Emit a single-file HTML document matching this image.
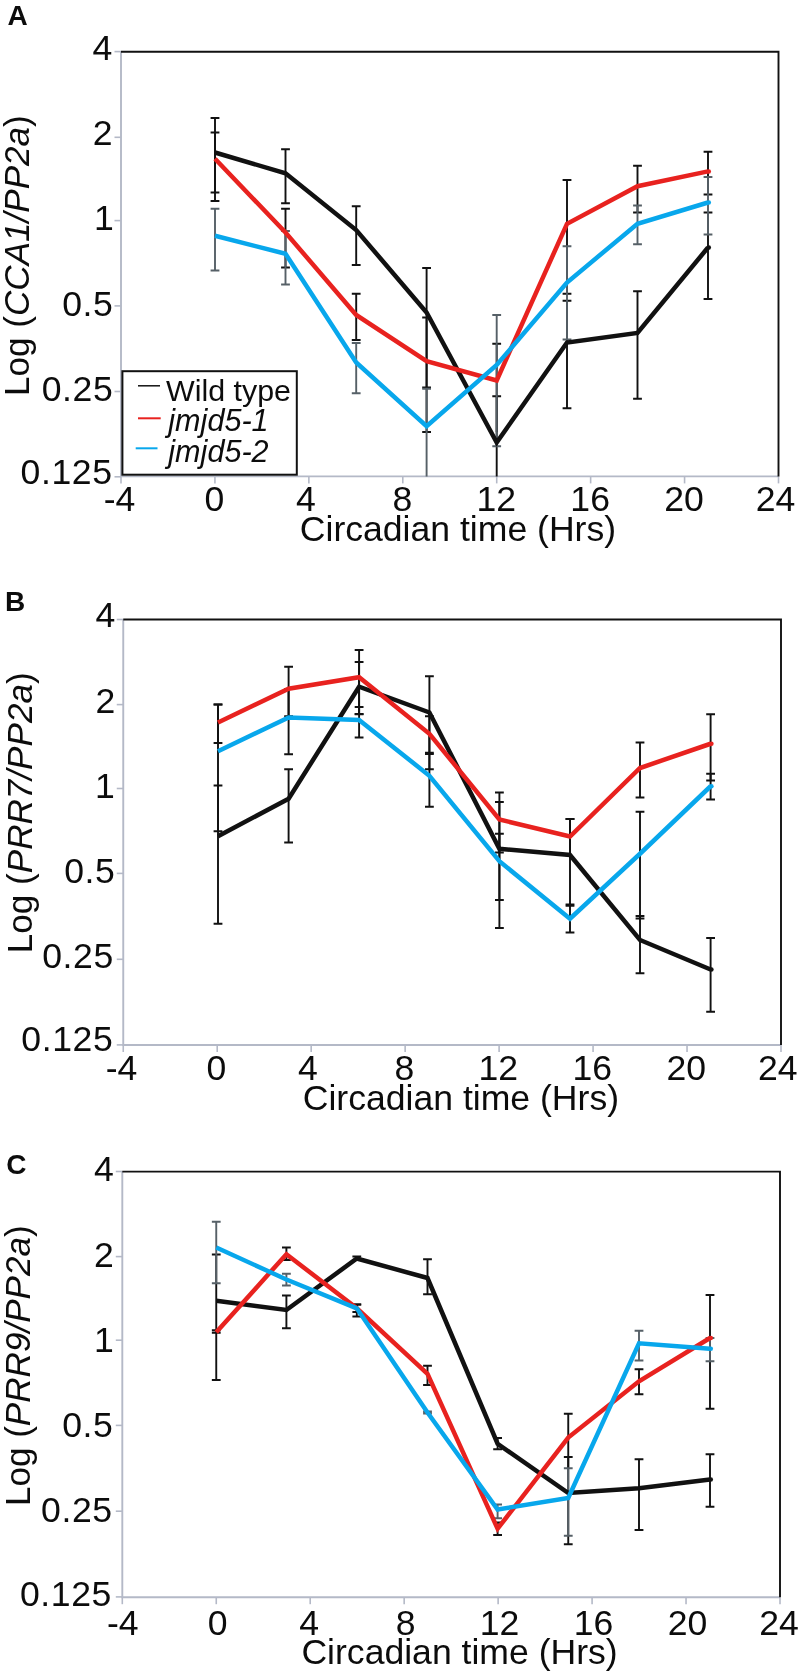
<!DOCTYPE html>
<html lang="en">
<head>
<meta charset="utf-8">
<title>Figure: circadian expression in jmjd5 mutants</title>
<style>
html,body{margin:0;padding:0;background:#fff;}
body{width:800px;height:1675px;overflow:hidden;}
svg{display:block;}
text{font-family:"Liberation Sans",Arial,Helvetica,sans-serif;fill:#0c0c0c;}
</style>
</head>
<body>
<svg style="will-change:transform" width="800" height="1675" viewBox="0 0 800 1675">
<rect width="800" height="1675" fill="#ffffff"/>
<g>
<text x="7.4" y="24.8" font-size="28" font-weight="bold">A</text>
<line x1="114.5" y1="51.6" x2="121" y2="51.6" stroke="#b4b9c7" stroke-width="1.6"/>
<text x="112.4" y="60" font-size="35.6" text-anchor="end" letter-spacing="0">4</text>
<line x1="114.5" y1="137.3" x2="121" y2="137.3" stroke="#b4b9c7" stroke-width="1.6"/>
<text x="112.6" y="145.2" font-size="35.6" text-anchor="end" letter-spacing="0">2</text>
<line x1="114.5" y1="220.6" x2="121" y2="220.6" stroke="#b4b9c7" stroke-width="1.6"/>
<text x="113.7" y="230.1" font-size="35.6" text-anchor="end" letter-spacing="0">1</text>
<line x1="114.5" y1="305.9" x2="121" y2="305.9" stroke="#b4b9c7" stroke-width="1.6"/>
<text x="113.4" y="315.5" font-size="35.6" text-anchor="end" letter-spacing="0.6">0.5</text>
<line x1="114.5" y1="391.5" x2="121" y2="391.5" stroke="#b4b9c7" stroke-width="1.6"/>
<text x="113.4" y="400.7" font-size="35.6" text-anchor="end" letter-spacing="0.6">0.25</text>
<line x1="114.5" y1="476.8" x2="121" y2="476.8" stroke="#b4b9c7" stroke-width="1.6"/>
<text x="112.6" y="483.5" font-size="35.6" text-anchor="end" letter-spacing="0.6">0.125</text>
<line x1="121" y1="476.4" x2="121" y2="483.4" stroke="#b4b9c7" stroke-width="1.6"/>
<text x="119.5" y="510.7" font-size="35.6" text-anchor="middle">-4</text>
<line x1="214.93" y1="476.4" x2="214.93" y2="483.4" stroke="#b4b9c7" stroke-width="1.6"/>
<text x="214.43" y="510.7" font-size="35.6" text-anchor="middle">0</text>
<line x1="308.86" y1="476.4" x2="308.86" y2="483.4" stroke="#b4b9c7" stroke-width="1.6"/>
<text x="305.86" y="510.7" font-size="35.6" text-anchor="middle">4</text>
<line x1="402.79" y1="476.4" x2="402.79" y2="483.4" stroke="#b4b9c7" stroke-width="1.6"/>
<text x="402.29" y="510.7" font-size="35.6" text-anchor="middle">8</text>
<line x1="496.71" y1="476.4" x2="496.71" y2="483.4" stroke="#b4b9c7" stroke-width="1.6"/>
<text x="496.21" y="510.7" font-size="35.6" text-anchor="middle">12</text>
<line x1="590.64" y1="476.4" x2="590.64" y2="483.4" stroke="#b4b9c7" stroke-width="1.6"/>
<text x="590.14" y="510.7" font-size="35.6" text-anchor="middle">16</text>
<line x1="684.57" y1="476.4" x2="684.57" y2="483.4" stroke="#b4b9c7" stroke-width="1.6"/>
<text x="684.07" y="510.7" font-size="35.6" text-anchor="middle">20</text>
<line x1="778.5" y1="476.4" x2="778.5" y2="483.4" stroke="#b4b9c7" stroke-width="1.6"/>
<text x="775.5" y="510.7" font-size="35.6" text-anchor="middle">24</text>
<path d="M121 51.75V476.4H778.5" fill="none" stroke="#b4b9c7" stroke-width="1.9"/>
<path d="M121 51.75H778.5V476.4" fill="none" stroke="#111111" stroke-width="1.9"/>
<text x="299.8" y="540.7" font-size="35.6">Circadian time (Hrs)</text>
<text transform="translate(28.6 396) rotate(-90)" font-size="35.1">Log (<tspan font-style="italic">CCA1/PP2a</tspan>)</text>
<path d="M215 118V201M210.6 118H219.4M210.6 201H219.4" fill="none" stroke="#111111" stroke-width="1.9"/>
<path d="M215 132.5V192.5M210.6 132.5H219.4M210.6 192.5H219.4" fill="none" stroke="#111111" stroke-width="1.9"/>
<path d="M215 208.75V270.5M210.6 208.75H219.4M210.6 270.5H219.4" fill="none" stroke="#566067" stroke-width="1.9"/>
<path d="M285.5 149.25V203.25M281.1 149.25H289.9M281.1 203.25H289.9" fill="none" stroke="#111111" stroke-width="1.9"/>
<path d="M285.5 208.75V267.5M281.1 208.75H289.9M281.1 267.5H289.9" fill="none" stroke="#111111" stroke-width="1.9"/>
<path d="M285.5 231V284.5M281.1 231H289.9M281.1 284.5H289.9" fill="none" stroke="#566067" stroke-width="1.9"/>
<path d="M356.2 206.25V265M351.8 206.25H360.6M351.8 265H360.6" fill="none" stroke="#111111" stroke-width="1.9"/>
<path d="M356.2 293.75V340M351.8 293.75H360.6M351.8 340H360.6" fill="none" stroke="#111111" stroke-width="1.9"/>
<path d="M356.2 343V393.25M351.8 343H360.6M351.8 393.25H360.6" fill="none" stroke="#566067" stroke-width="1.9"/>
<path d="M426.6 268V387.5M422.2 268H431M422.2 387.5H431" fill="none" stroke="#111111" stroke-width="1.9"/>
<path d="M426.6 317.5V432M422.2 317.5H431M422.2 432H431" fill="none" stroke="#111111" stroke-width="1.9"/>
<path d="M426.6 388.75V476.4M422.2 388.75H431" fill="none" stroke="#566067" stroke-width="1.9"/>
<path d="M496.7 396.25V476.4M492.3 396.25H501.1" fill="none" stroke="#111111" stroke-width="1.9"/>
<path d="M496.7 343.75V432M492.3 343.75H501.1" fill="none" stroke="#111111" stroke-width="1.9"/>
<path d="M496.7 315V446.25M492.3 315H501.1M492.3 446.25H501.1" fill="none" stroke="#566067" stroke-width="1.9"/>
<path d="M567 300.75V408.25M562.6 300.75H571.4M562.6 408.25H571.4" fill="none" stroke="#111111" stroke-width="1.9"/>
<path d="M567 180V293.75M562.6 180H571.4M562.6 293.75H571.4" fill="none" stroke="#111111" stroke-width="1.9"/>
<path d="M567 246.25V339.5M562.6 246.25H571.4M562.6 339.5H571.4" fill="none" stroke="#566067" stroke-width="1.9"/>
<path d="M637.5 291.25V398.75M633.1 291.25H641.9M633.1 398.75H641.9" fill="none" stroke="#111111" stroke-width="1.9"/>
<path d="M637.5 165.75V212.5M633.1 165.75H641.9M633.1 212.5H641.9" fill="none" stroke="#111111" stroke-width="1.9"/>
<path d="M637.5 205.5V244.25M633.1 205.5H641.9M633.1 244.25H641.9" fill="none" stroke="#566067" stroke-width="1.9"/>
<path d="M708 212.5V299M703.6 212.5H712.4M703.6 299H712.4" fill="none" stroke="#111111" stroke-width="1.9"/>
<path d="M708 151.75V194.5M703.6 151.75H712.4M703.6 194.5H712.4" fill="none" stroke="#111111" stroke-width="1.9"/>
<path d="M708 177V234.5M703.6 177H712.4M703.6 234.5H712.4" fill="none" stroke="#566067" stroke-width="1.9"/>
<polyline points="215,152.5 285.5,173.25 356.2,230 426.6,312.5 496.7,442.5 567,342.5 637.5,333 708,247.5" fill="none" stroke="#111111" stroke-width="4.5" stroke-linejoin="miter" stroke-linecap="butt"/>
<circle cx="708.8" cy="247.5" r="2.25" fill="#111111"/>
<polyline points="215,158.75 285.5,232.5 356.2,315 426.6,361.25 496.7,380.5 567,223.8 637.5,186.2 708,171.4" fill="none" stroke="#e8221f" stroke-width="4.5" stroke-linejoin="miter" stroke-linecap="butt"/>
<circle cx="708.8" cy="171.4" r="2.25" fill="#e8221f"/>
<polyline points="215,235.75 285.5,253.75 356.2,362.5 426.6,426.25 496.7,365 567,282.5 637.5,223.75 708,202.5" fill="none" stroke="#08a7ec" stroke-width="4.5" stroke-linejoin="miter" stroke-linecap="butt"/>
<circle cx="708.8" cy="202.5" r="2.25" fill="#08a7ec"/>
<rect x="122.4" y="371.2" width="174.4" height="103.5" fill="#fff" stroke="#111111" stroke-width="2"/>
<line x1="138" y1="385.8" x2="160" y2="385.8" stroke="#111111" stroke-width="1.5"/>
<line x1="138" y1="418.3" x2="160.7" y2="418.3" stroke="#e8221f" stroke-width="2"/>
<line x1="135.7" y1="448.3" x2="157.5" y2="448.3" stroke="#08a7ec" stroke-width="2"/>
<text x="166" y="400.8" font-size="30.4">Wild type</text>
<text x="168.3" y="430.6" font-size="30.6" font-style="italic">jmjd5-1</text>
<text x="168.3" y="461.6" font-size="30.6" font-style="italic">jmjd5-2</text>
</g>
<g>
<text x="5.0" y="610.75" font-size="28" font-weight="bold">B</text>
<line x1="116.75" y1="619.5" x2="123.25" y2="619.5" stroke="#b4b9c7" stroke-width="1.6"/>
<text x="115.2" y="627.3" font-size="35.6" text-anchor="end" letter-spacing="0">4</text>
<line x1="116.75" y1="704.6" x2="123.25" y2="704.6" stroke="#b4b9c7" stroke-width="1.6"/>
<text x="115.2" y="713" font-size="35.6" text-anchor="end" letter-spacing="0">2</text>
<line x1="116.75" y1="788.5" x2="123.25" y2="788.5" stroke="#b4b9c7" stroke-width="1.6"/>
<text x="114.7" y="797.8" font-size="35.6" text-anchor="end" letter-spacing="0">1</text>
<line x1="116.75" y1="873.4" x2="123.25" y2="873.4" stroke="#b4b9c7" stroke-width="1.6"/>
<text x="115.5" y="883" font-size="35.6" text-anchor="end" letter-spacing="0.6">0.5</text>
<line x1="116.75" y1="959.3" x2="123.25" y2="959.3" stroke="#b4b9c7" stroke-width="1.6"/>
<text x="113.8" y="968.3" font-size="35.6" text-anchor="end" letter-spacing="0.6">0.25</text>
<line x1="116.75" y1="1044.9" x2="123.25" y2="1044.9" stroke="#b4b9c7" stroke-width="1.6"/>
<text x="113.4" y="1051.4" font-size="35.6" text-anchor="end" letter-spacing="0.6">0.125</text>
<line x1="123.25" y1="1045" x2="123.25" y2="1052" stroke="#b4b9c7" stroke-width="1.6"/>
<text x="121.45" y="1080" font-size="35.6" text-anchor="middle">-4</text>
<line x1="217.21" y1="1045" x2="217.21" y2="1052" stroke="#b4b9c7" stroke-width="1.6"/>
<text x="216.41" y="1080" font-size="35.6" text-anchor="middle">0</text>
<line x1="311.18" y1="1045" x2="311.18" y2="1052" stroke="#b4b9c7" stroke-width="1.6"/>
<text x="307.88" y="1080" font-size="35.6" text-anchor="middle">4</text>
<line x1="405.14" y1="1045" x2="405.14" y2="1052" stroke="#b4b9c7" stroke-width="1.6"/>
<text x="404.34" y="1080" font-size="35.6" text-anchor="middle">8</text>
<line x1="499.11" y1="1045" x2="499.11" y2="1052" stroke="#b4b9c7" stroke-width="1.6"/>
<text x="498.31" y="1080" font-size="35.6" text-anchor="middle">12</text>
<line x1="593.07" y1="1045" x2="593.07" y2="1052" stroke="#b4b9c7" stroke-width="1.6"/>
<text x="592.27" y="1080" font-size="35.6" text-anchor="middle">16</text>
<line x1="687.04" y1="1045" x2="687.04" y2="1052" stroke="#b4b9c7" stroke-width="1.6"/>
<text x="686.24" y="1080" font-size="35.6" text-anchor="middle">20</text>
<line x1="781" y1="1045" x2="781" y2="1052" stroke="#b4b9c7" stroke-width="1.6"/>
<text x="777.7" y="1080" font-size="35.6" text-anchor="middle">24</text>
<path d="M123.25 619.5V1045H781" fill="none" stroke="#b4b9c7" stroke-width="1.9"/>
<path d="M123.25 619.5H781V1045" fill="none" stroke="#111111" stroke-width="1.9"/>
<text x="302.75" y="1110" font-size="35.6">Circadian time (Hrs)</text>
<text transform="translate(31.5 953.2) rotate(-90)" font-size="35.1">Log (<tspan font-style="italic">PRR7/PP2a</tspan>)</text>
<path d="M218 785.5V923.75M213.6 785.5H222.4M213.6 923.75H222.4" fill="none" stroke="#111111" stroke-width="1.9"/>
<path d="M218 704.5V743M213.6 704.5H222.4M213.6 743H222.4" fill="none" stroke="#111111" stroke-width="1.9"/>
<path d="M218 704.5V831.25M213.6 704.5H222.4M213.6 831.25H222.4" fill="none" stroke="#111111" stroke-width="1.9"/>
<path d="M288.6 769.25V842.5M284.2 769.25H293M284.2 842.5H293" fill="none" stroke="#111111" stroke-width="1.9"/>
<path d="M288.6 666.75V716.25M284.2 666.75H293M284.2 716.25H293" fill="none" stroke="#111111" stroke-width="1.9"/>
<path d="M288.6 689V754.25M284.2 689H293M284.2 754.25H293" fill="none" stroke="#111111" stroke-width="1.9"/>
<path d="M359.1 662V714M354.7 662H363.5M354.7 714H363.5" fill="none" stroke="#111111" stroke-width="1.9"/>
<path d="M359.1 650V714.25M354.7 650H363.5M354.7 714.25H363.5" fill="none" stroke="#111111" stroke-width="1.9"/>
<path d="M359.1 707V737.5M354.7 707H363.5M354.7 737.5H363.5" fill="none" stroke="#111111" stroke-width="1.9"/>
<path d="M429.4 676.25V769.25M425 676.25H433.8M425 769.25H433.8" fill="none" stroke="#111111" stroke-width="1.9"/>
<path d="M429.4 716.25V752.7M425 716.25H433.8M425 752.7H433.8" fill="none" stroke="#111111" stroke-width="1.9"/>
<path d="M429.4 754V806.75M425 754H433.8M425 806.75H433.8" fill="none" stroke="#111111" stroke-width="1.9"/>
<path d="M499.4 802V928M495 802H503.8M495 928H503.8" fill="none" stroke="#111111" stroke-width="1.9"/>
<path d="M499.4 792.5V852.5M495 792.5H503.8M495 852.5H503.8" fill="none" stroke="#111111" stroke-width="1.9"/>
<path d="M499.4 833.75V900M495 833.75H503.8M495 900H503.8" fill="none" stroke="#111111" stroke-width="1.9"/>
<path d="M570 819V904.4M565.6 819H574.4M565.6 904.4H574.4" fill="none" stroke="#111111" stroke-width="1.9"/>
<path d="M570 819V856M565.6 819H574.4" fill="none" stroke="#111111" stroke-width="1.9"/>
<path d="M570 905.8V932.5M565.6 905.8H574.4M565.6 932.5H574.4" fill="none" stroke="#111111" stroke-width="1.9"/>
<path d="M640 916V973.25M635.6 916H644.4M635.6 973.25H644.4" fill="none" stroke="#111111" stroke-width="1.9"/>
<path d="M640 742.5V797.5M635.6 742.5H644.4M635.6 797.5H644.4" fill="none" stroke="#111111" stroke-width="1.9"/>
<path d="M640 811.75V918.5M635.6 811.75H644.4M635.6 918.5H644.4" fill="none" stroke="#111111" stroke-width="1.9"/>
<path d="M710.6 938V1011.75M706.2 938H715M706.2 1011.75H715" fill="none" stroke="#111111" stroke-width="1.9"/>
<path d="M710.6 714.25V780.5M706.2 714.25H715M706.2 780.5H715" fill="none" stroke="#111111" stroke-width="1.9"/>
<path d="M710.6 773.75V799.5M706.2 773.75H715M706.2 799.5H715" fill="none" stroke="#111111" stroke-width="1.9"/>
<polyline points="218,836.25 288.6,798.75 359.1,686.75 429.4,712.5 499.4,848.75 570,855 640,940 710.6,969.5" fill="none" stroke="#111111" stroke-width="4.5" stroke-linejoin="miter" stroke-linecap="butt"/>
<circle cx="711.4" cy="969.5" r="2.25" fill="#111111"/>
<polyline points="218,722.5 288.6,688.75 359.1,677.25 429.4,733.75 499.4,819.5 570,836.5 640,768 710.6,743.75" fill="none" stroke="#e8221f" stroke-width="4.5" stroke-linejoin="miter" stroke-linecap="butt"/>
<circle cx="711.4" cy="743.75" r="2.25" fill="#e8221f"/>
<polyline points="218,751.25 288.6,717.5 359.1,720 429.4,775.75 499.4,861.25 570,918.75 640,853.75 710.6,786.25" fill="none" stroke="#08a7ec" stroke-width="4.5" stroke-linejoin="miter" stroke-linecap="butt"/>
<circle cx="711.4" cy="786.25" r="2.25" fill="#08a7ec"/>
</g>
<g>
<text x="6.2" y="1174.1" font-size="28" font-weight="bold">C</text>
<line x1="115.8" y1="1171.5" x2="122.3" y2="1171.5" stroke="#b4b9c7" stroke-width="1.6"/>
<text x="113.8" y="1180.7" font-size="35.6" text-anchor="end" letter-spacing="0">4</text>
<line x1="115.8" y1="1256.6" x2="122.3" y2="1256.6" stroke="#b4b9c7" stroke-width="1.6"/>
<text x="113.8" y="1266.6" font-size="35.6" text-anchor="end" letter-spacing="0">2</text>
<line x1="115.8" y1="1340.2" x2="122.3" y2="1340.2" stroke="#b4b9c7" stroke-width="1.6"/>
<text x="113.7" y="1351.9" font-size="35.6" text-anchor="end" letter-spacing="0">1</text>
<line x1="115.8" y1="1425.4" x2="122.3" y2="1425.4" stroke="#b4b9c7" stroke-width="1.6"/>
<text x="113.4" y="1436.7" font-size="35.6" text-anchor="end" letter-spacing="0.6">0.5</text>
<line x1="115.8" y1="1511.2" x2="122.3" y2="1511.2" stroke="#b4b9c7" stroke-width="1.6"/>
<text x="112.7" y="1521.6" font-size="35.6" text-anchor="end" letter-spacing="0.6">0.25</text>
<line x1="115.8" y1="1596.9" x2="122.3" y2="1596.9" stroke="#b4b9c7" stroke-width="1.6"/>
<text x="112" y="1605.5" font-size="35.6" text-anchor="end" letter-spacing="0.6">0.125</text>
<line x1="122.3" y1="1597.2" x2="122.3" y2="1604.2" stroke="#b4b9c7" stroke-width="1.6"/>
<text x="122.8" y="1634.9" font-size="35.6" text-anchor="middle">-4</text>
<line x1="216.26" y1="1597.2" x2="216.26" y2="1604.2" stroke="#b4b9c7" stroke-width="1.6"/>
<text x="217.76" y="1634.9" font-size="35.6" text-anchor="middle">0</text>
<line x1="310.21" y1="1597.2" x2="310.21" y2="1604.2" stroke="#b4b9c7" stroke-width="1.6"/>
<text x="309.21" y="1634.9" font-size="35.6" text-anchor="middle">4</text>
<line x1="404.17" y1="1597.2" x2="404.17" y2="1604.2" stroke="#b4b9c7" stroke-width="1.6"/>
<text x="405.67" y="1634.9" font-size="35.6" text-anchor="middle">8</text>
<line x1="498.13" y1="1597.2" x2="498.13" y2="1604.2" stroke="#b4b9c7" stroke-width="1.6"/>
<text x="499.63" y="1634.9" font-size="35.6" text-anchor="middle">12</text>
<line x1="592.09" y1="1597.2" x2="592.09" y2="1604.2" stroke="#b4b9c7" stroke-width="1.6"/>
<text x="593.59" y="1634.9" font-size="35.6" text-anchor="middle">16</text>
<line x1="686.04" y1="1597.2" x2="686.04" y2="1604.2" stroke="#b4b9c7" stroke-width="1.6"/>
<text x="687.54" y="1634.9" font-size="35.6" text-anchor="middle">20</text>
<line x1="780" y1="1597.2" x2="780" y2="1604.2" stroke="#b4b9c7" stroke-width="1.6"/>
<text x="779" y="1634.9" font-size="35.6" text-anchor="middle">24</text>
<path d="M122.3 1171.6V1597.2H780" fill="none" stroke="#b4b9c7" stroke-width="1.9"/>
<path d="M122.3 1171.6H780V1597.2" fill="none" stroke="#111111" stroke-width="1.9"/>
<text x="301.4" y="1664.1" font-size="35.6">Circadian time (Hrs)</text>
<text transform="translate(30 1506.1) rotate(-90)" font-size="35.1">Log (<tspan font-style="italic">PRR9/PP2a</tspan>)</text>
<path d="M216.25 1254.5V1380M211.85 1254.5H220.65M211.85 1380H220.65" fill="none" stroke="#111111" stroke-width="1.9"/>
<path d="M216.25 1330.3V1332.8M211.85 1330.3H220.65M211.85 1332.8H220.65" fill="none" stroke="#111111" stroke-width="1.9"/>
<path d="M216.25 1221.75V1283.25M211.85 1221.75H220.65M211.85 1283.25H220.65" fill="none" stroke="#566067" stroke-width="1.9"/>
<path d="M286.4 1295.5V1328.25M282 1295.5H290.8M282 1328.25H290.8" fill="none" stroke="#111111" stroke-width="1.9"/>
<path d="M286.4 1247.5V1260M282 1247.5H290.8M282 1260H290.8" fill="none" stroke="#111111" stroke-width="1.9"/>
<path d="M286.4 1273.75V1285.5M282 1273.75H290.8M282 1285.5H290.8" fill="none" stroke="#566067" stroke-width="1.9"/>
<path d="M356.8 1256.5V1260M352.4 1256.5H361.2M352.4 1260H361.2" fill="none" stroke="#111111" stroke-width="1.9"/>
<path d="M356.8 1304.5V1312M352.4 1304.5H361.2M352.4 1312H361.2" fill="none" stroke="#111111" stroke-width="1.9"/>
<path d="M356.8 1304.5V1316.5M352.4 1304.5H361.2M352.4 1316.5H361.2" fill="none" stroke="#111111" stroke-width="1.9"/>
<path d="M427.5 1259.25V1294.25M423.1 1259.25H431.9M423.1 1294.25H431.9" fill="none" stroke="#111111" stroke-width="1.9"/>
<path d="M427.5 1365.75V1385M423.1 1365.75H431.9M423.1 1385H431.9" fill="none" stroke="#111111" stroke-width="1.9"/>
<path d="M427.5 1411.5V1413.5M423.1 1411.5H431.9M423.1 1413.5H431.9" fill="none" stroke="#566067" stroke-width="1.9"/>
<path d="M497.6 1438V1449.25M493.2 1438H502M493.2 1449.25H502" fill="none" stroke="#111111" stroke-width="1.9"/>
<path d="M497.6 1522.5V1535M493.2 1522.5H502M493.2 1535H502" fill="none" stroke="#111111" stroke-width="1.9"/>
<path d="M497.6 1504.5V1518.25M493.2 1504.5H502M493.2 1518.25H502" fill="none" stroke="#566067" stroke-width="1.9"/>
<path d="M568.25 1457V1544.25M563.85 1457H572.65M563.85 1544.25H572.65" fill="none" stroke="#111111" stroke-width="1.9"/>
<path d="M568.25 1413.75V1468M563.85 1413.75H572.65" fill="none" stroke="#111111" stroke-width="1.9"/>
<path d="M568.25 1468.25V1535.75M563.85 1468.25H572.65M563.85 1535.75H572.65" fill="none" stroke="#566067" stroke-width="1.9"/>
<path d="M639 1459.25V1530M634.6 1459.25H643.4M634.6 1530H643.4" fill="none" stroke="#111111" stroke-width="1.9"/>
<path d="M639 1369.25V1394.25M634.6 1369.25H643.4M634.6 1394.25H643.4" fill="none" stroke="#111111" stroke-width="1.9"/>
<path d="M639 1330.75V1360.5M634.6 1330.75H643.4M634.6 1360.5H643.4" fill="none" stroke="#566067" stroke-width="1.9"/>
<path d="M710 1454.25V1506.75M705.6 1454.25H714.4M705.6 1506.75H714.4" fill="none" stroke="#111111" stroke-width="1.9"/>
<path d="M710 1295V1408.75M705.6 1295H714.4M705.6 1408.75H714.4" fill="none" stroke="#111111" stroke-width="1.9"/>
<path d="M710 1338V1361.25M705.6 1338H714.4M705.6 1361.25H714.4" fill="none" stroke="#566067" stroke-width="1.9"/>
<polyline points="216.25,1300.75 286.4,1310 356.8,1258.5 427.5,1278 497.6,1443.75 568.25,1493 639,1488.25 710,1479.5" fill="none" stroke="#111111" stroke-width="4.5" stroke-linejoin="miter" stroke-linecap="butt"/>
<circle cx="710.8" cy="1479.5" r="2.25" fill="#111111"/>
<polyline points="216.25,1332.3 286.4,1254.2 356.8,1308.3 427.5,1373.75 497.6,1528.75 568.25,1437.5 639,1381.25 710,1338" fill="none" stroke="#e8221f" stroke-width="4.5" stroke-linejoin="miter" stroke-linecap="butt"/>
<circle cx="710.8" cy="1338" r="2.25" fill="#e8221f"/>
<polyline points="216.25,1247.5 286.4,1279.5 356.8,1308.3 427.5,1412.5 497.6,1509.5 568.25,1498 639,1343.25 710,1348.75" fill="none" stroke="#08a7ec" stroke-width="4.5" stroke-linejoin="miter" stroke-linecap="butt"/>
<circle cx="710.8" cy="1348.75" r="2.25" fill="#08a7ec"/>
</g>
</svg>
</body>
</html>
